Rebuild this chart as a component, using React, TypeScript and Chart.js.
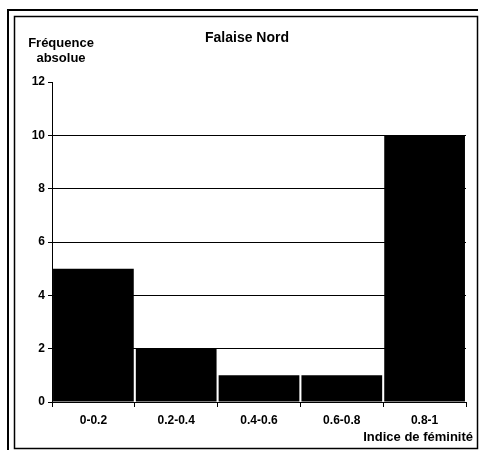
import React, { useEffect, useRef } from "react";
import { Chart, registerables } from "chart.js";

Chart.register(...registerables);

const categories = ["0-0.2", "0.2-0.4", "0.4-0.6", "0.6-0.8", "0.8-1"];
const frequencies = [5, 2, 1, 1, 10];
const chartTitle = "Falaise Nord";
const yTitleLines = ["Fréquence", "absolue"];
const xTitle = "Indice de féminité";

const FONT = "'Liberation Sans', Arial, sans-serif";

const decorPlugin = {
  id: "decor",
  beforeDraw(chart: any) {
    const ctx = chart.ctx;
    ctx.save();
    ctx.fillStyle = "#fff";
    ctx.fillRect(0, 0, chart.width, chart.height);
    ctx.strokeStyle = "#000";
    // outer frame lines
    ctx.lineWidth = 2;
    ctx.beginPath();
    ctx.moveTo(8, 450);
    ctx.lineTo(8, 10);
    ctx.lineTo(478, 10);
    ctx.stroke();
    // inner frame
    ctx.lineWidth = 1.5;
    ctx.strokeRect(14.5, 16.5, 463, 432);
    ctx.restore();
  },
  afterDraw(chart: any) {
    const ctx = chart.ctx;
    ctx.save();
    ctx.fillStyle = "#000";
    ctx.textBaseline = "middle";
    ctx.font = `bold 14px ${FONT}`;
    ctx.textAlign = "center";
    ctx.fillText(chartTitle, 247, 38);
    ctx.font = `bold 13px ${FONT}`;
    ctx.fillText(yTitleLines[0], 61, 43);
    ctx.fillText(yTitleLines[1], 61, 58);
    ctx.textAlign = "right";
    ctx.fillText(xTitle, 473, 437);
    ctx.restore();
  },
};

export default function App() {
  const ref = useRef<HTMLCanvasElement>(null);
  useEffect(() => {
    if (!ref.current) return;
    const chart = new Chart(ref.current, {
      type: "bar",
      data: {
        labels: categories,
        datasets: [
          {
            data: frequencies,
            backgroundColor: "#000",
            borderWidth: 0,
            barPercentage: 0.975,
            categoryPercentage: 1,
          },
        ],
      },
      options: {
        responsive: false,
        animation: false,
        devicePixelRatio: 1,
        layout: { padding: { top: 82, left: 10, right: 14, bottom: 0 } },
        plugins: {
          legend: { display: false },
          title: { display: false },
          tooltip: { enabled: false },
        },
        scales: {
          x: {
            afterFit: (s: any) => {
              s.height = 51;
            },
            grid: {
              display: true,
              drawOnChartArea: false,
              drawTicks: true,
              tickLength: 5,
              color: "#000",
              tickColor: "#000",
              offset: true,
            },
            border: { display: true, color: "#000", width: 1 },
            ticks: {
              color: "#000",
              padding: 6,
              font: { family: FONT, size: 12, weight: "bold" },
              maxRotation: 0,
            },
          },
          y: {
            min: 0,
            max: 12,
            afterFit: (s: any) => {
              s.width = 42;
            },
            ticks: {
              stepSize: 2,
              color: "#000",
              padding: 3,
              font: { family: FONT, size: 12, weight: "bold" },
            },
            grid: {
              drawTicks: true,
              tickLength: 4,
              tickColor: "#000",
              lineWidth: 1,
              color: (c: any) =>
                c.tick && (c.tick.value === 12 || c.tick.value === 0)
                  ? "rgba(0,0,0,0)"
                  : "#000",
            },
            border: { display: true, color: "#000", width: 1 },
          },
        },
      } as any,
      plugins: [decorPlugin],
    });
    return () => chart.destroy();
  }, []);
  return (
    <div style={{ position: "absolute", left: 0, top: 0, width: 480, height: 453 }}>
      <canvas ref={ref} width={480} height={453} />
    </div>
  );
}
